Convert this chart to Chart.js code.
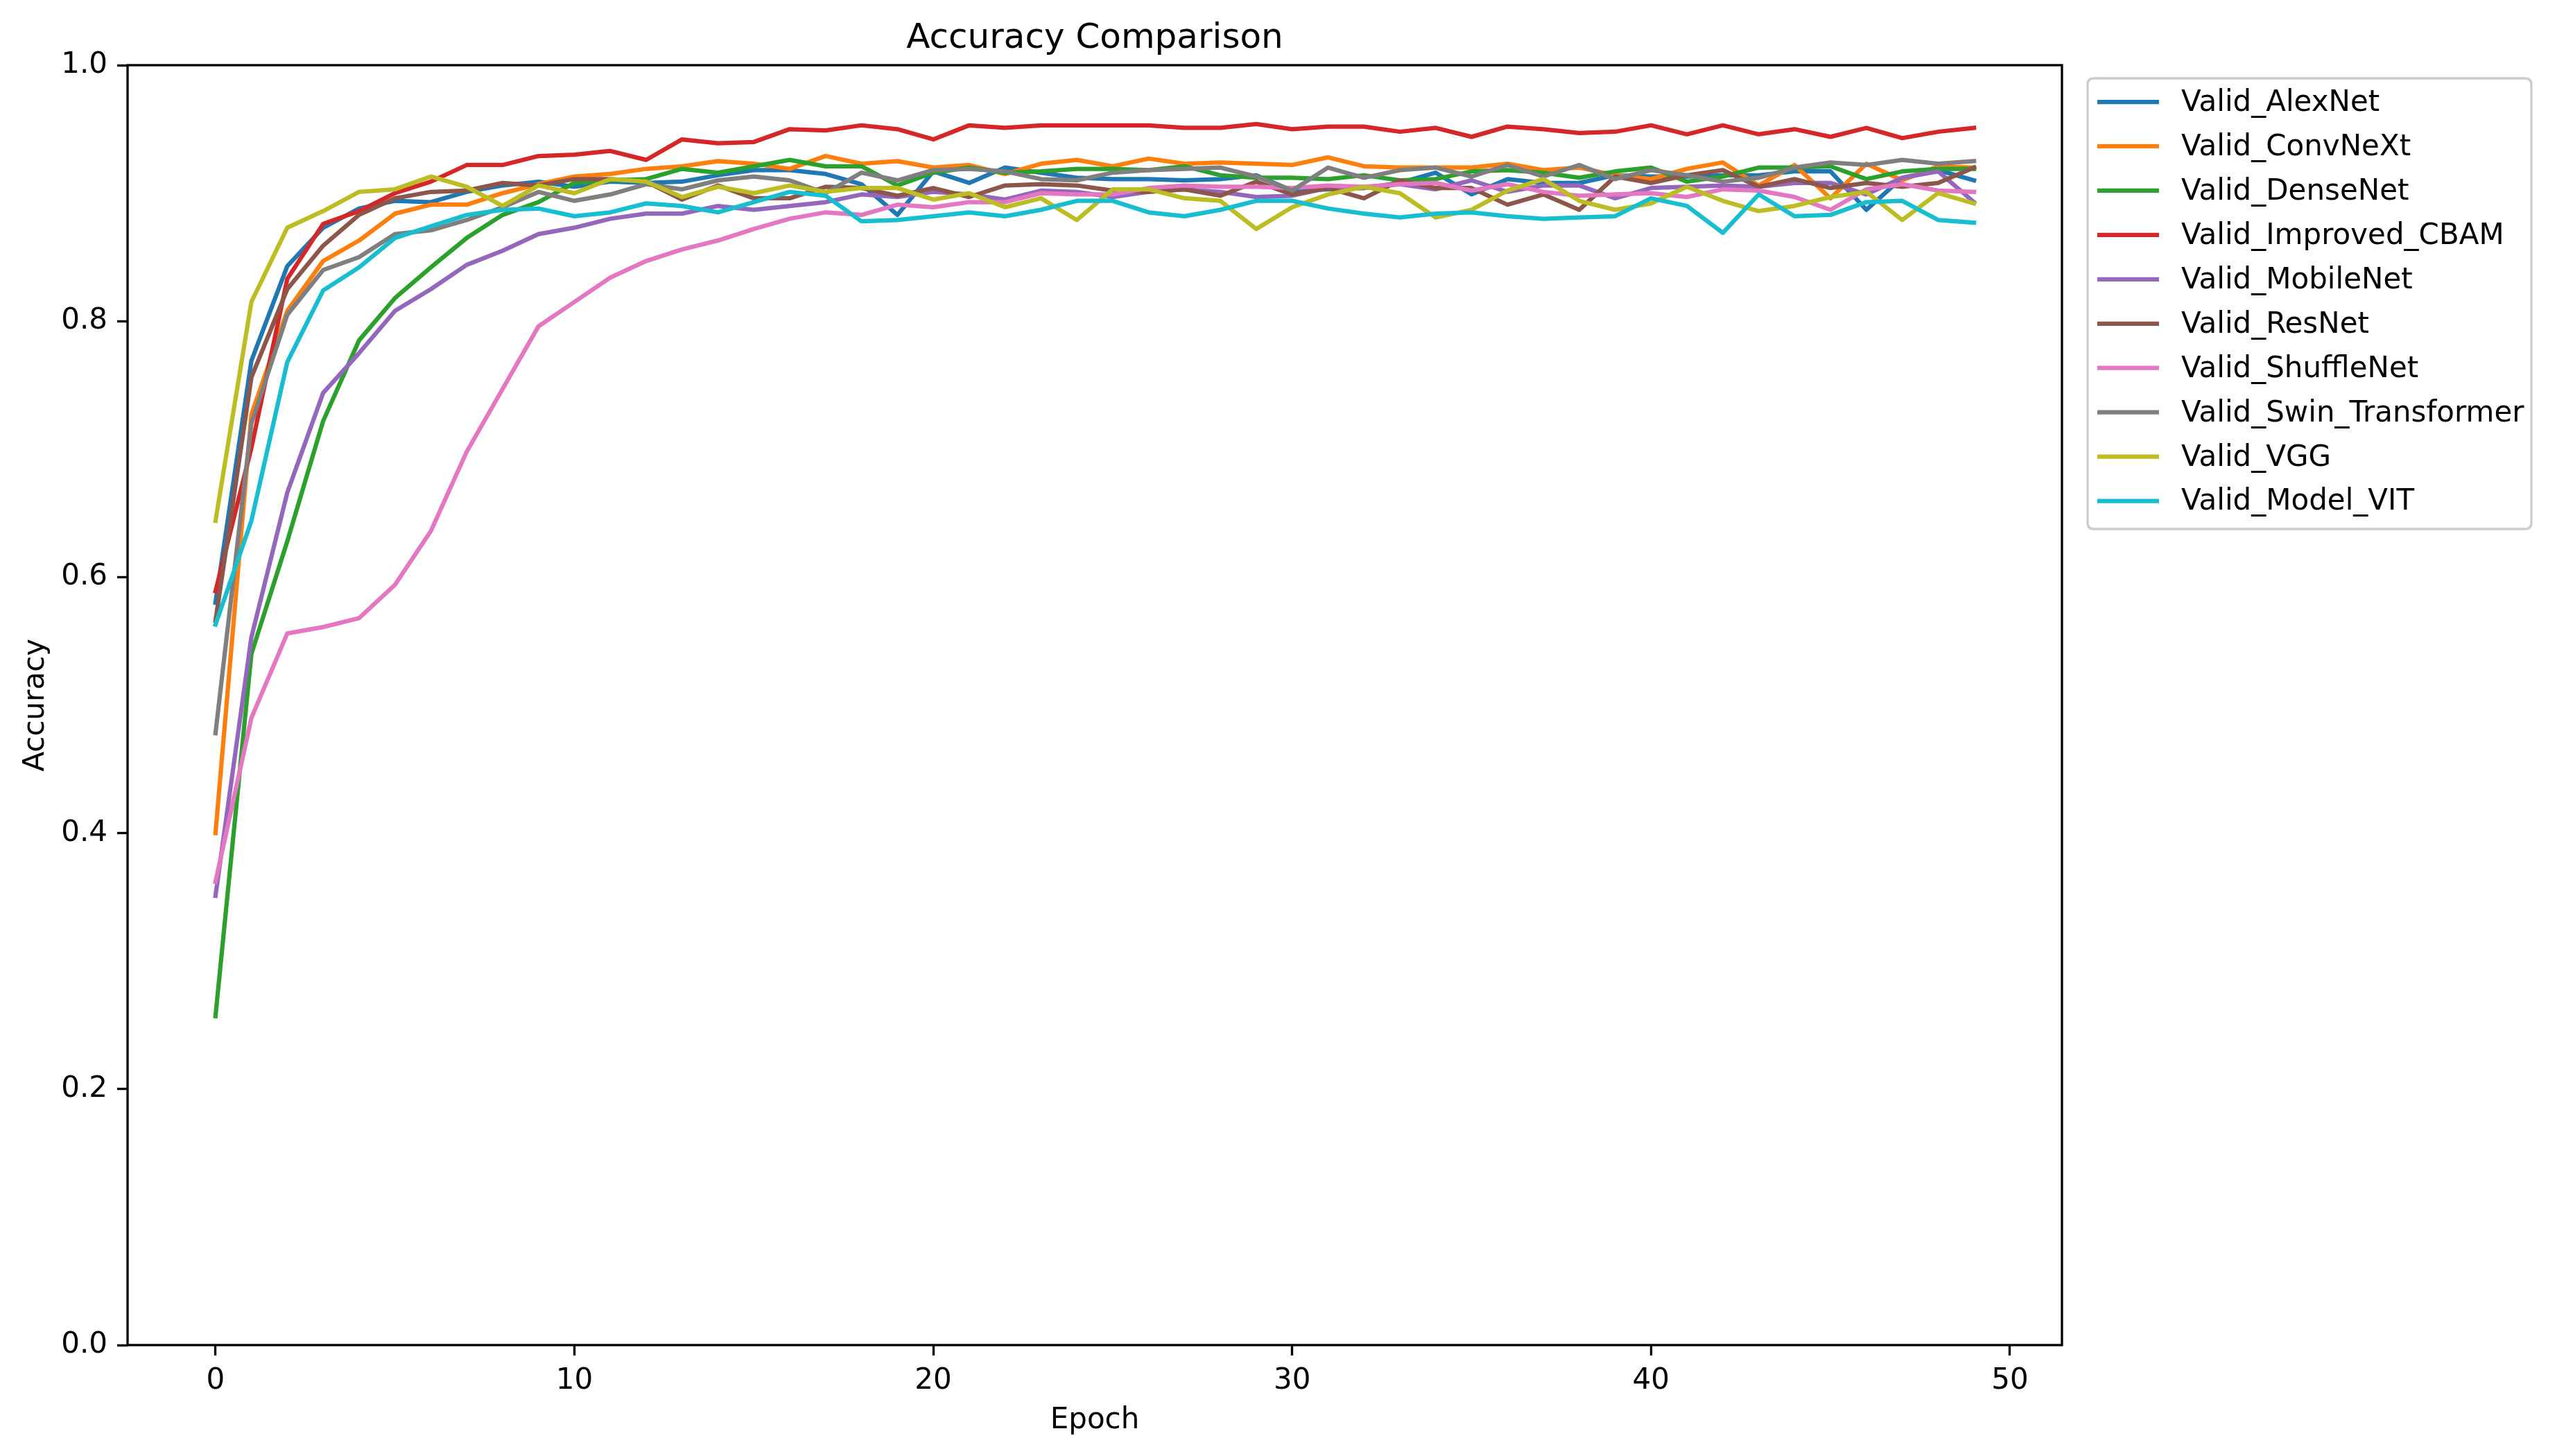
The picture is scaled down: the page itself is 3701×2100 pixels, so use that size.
<!DOCTYPE html>
<html><head><meta charset="utf-8">
<script src="https://cdn.jsdelivr.net/npm/chart.js@4.4.1/dist/chart.umd.min.js"></script>
<style>html,body{margin:0;padding:0;background:#fff;}canvas{display:block;}</style>
</head><body>
<canvas id="c" width="3701" height="2100" style="width:3701px;height:2100px"></canvas>
<script>
const epochs = [0,1,2,3,4,5,6,7,8,9,10,11,12,13,14,15,16,17,18,19,20,21,22,23,24,25,26,27,28,29,30,31,32,33,34,35,36,37,38,39,40,41,42,43,44,45,46,47,48,49];
const xTicks = [0,10,20,30,40,50];
const yTicks = [0.0,0.2,0.4,0.6,0.8,1.0];
const seriesNames = ['Valid_AlexNet','Valid_ConvNeXt','Valid_DenseNet','Valid_Improved_CBAM','Valid_MobileNet','Valid_ResNet','Valid_ShuffleNet','Valid_Swin_Transformer','Valid_VGG','Valid_Model_VIT'];
const seriesColors = ['#1f77b4','#ff7f0e','#2ca02c','#d62728','#9467bd','#8c564b','#e377c2','#7f7f7f','#bcbd22','#17becf'];

const validAlexNet = [0.580,0.769,0.843,0.873,0.888,0.894,0.893,0.901,0.906,0.909,0.905,0.909,0.908,0.909,0.914,0.918,0.918,0.915,0.907,0.883,0.917,0.908,0.920,0.916,0.912,0.911,0.911,0.910,0.911,0.914,0.902,0.903,0.904,0.908,0.916,0.899,0.911,0.908,0.908,0.914,0.913,0.913,0.914,0.914,0.917,0.917,0.887,0.912,0.918,0.910];
const validConvNeXt = [0.400,0.727,0.808,0.847,0.863,0.884,0.891,0.891,0.900,0.907,0.913,0.915,0.919,0.921,0.925,0.923,0.919,0.929,0.923,0.925,0.920,0.922,0.915,0.923,0.926,0.921,0.927,0.923,0.924,0.923,0.922,0.928,0.921,0.920,0.920,0.920,0.923,0.918,0.920,0.914,0.911,0.919,0.924,0.906,0.922,0.896,0.923,0.910,0.921,0.920];
const validDenseNet = [0.257,0.540,0.628,0.722,0.785,0.818,0.842,0.865,0.883,0.893,0.908,0.910,0.911,0.919,0.916,0.921,0.926,0.921,0.921,0.906,0.916,0.920,0.916,0.917,0.919,0.919,0.918,0.921,0.914,0.912,0.912,0.911,0.914,0.910,0.911,0.917,0.918,0.916,0.912,0.917,0.920,0.909,0.913,0.920,0.920,0.921,0.911,0.917,0.919,0.919];
const validImprovedCBAM = [0.589,0.701,0.833,0.876,0.886,0.900,0.909,0.922,0.922,0.929,0.930,0.933,0.926,0.942,0.939,0.940,0.950,0.949,0.953,0.950,0.942,0.953,0.951,0.953,0.953,0.953,0.953,0.951,0.951,0.954,0.950,0.952,0.952,0.948,0.951,0.944,0.952,0.950,0.947,0.948,0.953,0.946,0.953,0.946,0.950,0.944,0.951,0.943,0.948,0.951];
const validMobileNet = [0.351,0.553,0.666,0.744,0.775,0.808,0.825,0.844,0.855,0.868,0.873,0.880,0.884,0.884,0.890,0.887,0.890,0.893,0.899,0.897,0.901,0.899,0.895,0.902,0.901,0.897,0.901,0.903,0.901,0.897,0.898,0.904,0.904,0.907,0.903,0.910,0.901,0.906,0.906,0.896,0.904,0.905,0.906,0.905,0.908,0.908,0.899,0.912,0.917,0.893];
const validResNet = [0.566,0.756,0.825,0.859,0.883,0.896,0.901,0.902,0.908,0.906,0.911,0.911,0.909,0.895,0.906,0.896,0.896,0.905,0.904,0.898,0.904,0.897,0.906,0.907,0.906,0.902,0.901,0.903,0.898,0.909,0.899,0.904,0.896,0.910,0.904,0.904,0.891,0.899,0.887,0.913,0.908,0.914,0.918,0.905,0.911,0.904,0.908,0.905,0.908,0.920];
const validShuffleNet = [0.362,0.490,0.556,0.561,0.568,0.594,0.636,0.698,0.747,0.796,0.815,0.834,0.847,0.856,0.863,0.872,0.880,0.885,0.883,0.891,0.889,0.893,0.893,0.900,0.899,0.899,0.904,0.906,0.905,0.905,0.904,0.906,0.905,0.907,0.908,0.902,0.907,0.901,0.898,0.899,0.900,0.897,0.903,0.902,0.897,0.887,0.903,0.907,0.902,0.901];
const validSwinTransformer = [0.478,0.720,0.805,0.840,0.850,0.868,0.871,0.879,0.889,0.901,0.894,0.899,0.907,0.903,0.910,0.913,0.910,0.900,0.916,0.910,0.918,0.919,0.917,0.911,0.910,0.916,0.918,0.919,0.920,0.913,0.902,0.920,0.912,0.918,0.920,0.913,0.922,0.913,0.922,0.911,0.918,0.914,0.909,0.912,0.920,0.924,0.922,0.926,0.923,0.925];
const validVGG = [0.644,0.815,0.873,0.886,0.901,0.903,0.913,0.905,0.890,0.906,0.900,0.911,0.909,0.897,0.905,0.900,0.906,0.901,0.904,0.904,0.895,0.900,0.889,0.896,0.879,0.903,0.903,0.896,0.894,0.872,0.889,0.899,0.905,0.900,0.881,0.887,0.902,0.911,0.894,0.887,0.892,0.905,0.894,0.886,0.890,0.897,0.901,0.879,0.900,0.892];
const validModelVIT = [0.563,0.644,0.768,0.824,0.842,0.865,0.874,0.883,0.887,0.888,0.882,0.885,0.892,0.890,0.885,0.893,0.901,0.898,0.878,0.879,0.882,0.885,0.882,0.887,0.894,0.894,0.885,0.882,0.887,0.894,0.894,0.888,0.884,0.881,0.884,0.885,0.882,0.880,0.881,0.882,0.896,0.890,0.869,0.899,0.882,0.883,0.893,0.894,0.879,0.877];

const seriesValues = [validAlexNet, validConvNeXt, validDenseNet, validImprovedCBAM, validMobileNet, validResNet, validShuffleNet, validSwinTransformer, validVGG, validModelVIT];

const FONT = "'DejaVu Sans', sans-serif";
const LW = 6.25;      // 1.5pt @300dpi
const AXW = 3.33;     // 0.8pt @300dpi

const datasets = seriesValues.map((vals, i) => ({
  label: seriesNames[i],
  data: epochs.map((e, k) => ({x: e, y: vals[k]})),
  borderColor: seriesColors[i],
  backgroundColor: seriesColors[i],
  borderWidth: LW,
  pointRadius: 0,
  pointHoverRadius: 0,
  tension: 0,
  fill: false,
  borderJoinStyle: 'round',
  borderCapStyle: 'square',
  order: seriesNames.length - 1 - i
}));

const decor = {
  id: 'decor',
  afterDatasetsDraw(chart) {
    const {ctx, chartArea: a} = chart;
    ctx.save();
    ctx.strokeStyle = '#000';
    ctx.lineWidth = AXW;
    ctx.strokeRect(a.left, a.top, a.right - a.left, a.bottom - a.top);
    ctx.restore();
  },
  afterDraw(chart) {
    const {ctx, chartArea: a} = chart;
    ctx.save();
    // title
    ctx.fillStyle = '#000';
    ctx.font = "50px " + FONT;
    ctx.textAlign = 'center';
    ctx.textBaseline = 'alphabetic';
    ctx.fillText('Accuracy Comparison', (a.left + a.right) / 2, a.top - 25);
    // legend
    const bx = a.right + 37, by = a.top + 19, bw = 640, bh = 650, r = 9;
    ctx.beginPath();
    ctx.moveTo(bx + r, by);
    ctx.lineTo(bx + bw - r, by);
    ctx.quadraticCurveTo(bx + bw, by, bx + bw, by + r);
    ctx.lineTo(bx + bw, by + bh - r);
    ctx.quadraticCurveTo(bx + bw, by + bh, bx + bw - r, by + bh);
    ctx.lineTo(bx + r, by + bh);
    ctx.quadraticCurveTo(bx, by + bh, bx, by + bh - r);
    ctx.lineTo(bx, by + r);
    ctx.quadraticCurveTo(bx, by, bx + r, by);
    ctx.closePath();
    ctx.fillStyle = 'rgba(255,255,255,0.8)';
    ctx.fill();
    ctx.strokeStyle = '#cccccc';
    ctx.lineWidth = AXW;
    ctx.stroke();
    ctx.font = "42px " + FONT;
    ctx.textAlign = 'left';
    ctx.textBaseline = 'middle';
    chart.data.datasets.forEach((ds, i) => {
      const y = a.top + 53 + i * 63.95;
      ctx.strokeStyle = ds.borderColor;
      ctx.lineWidth = LW;
      ctx.lineCap = 'butt';
      ctx.beginPath();
      ctx.moveTo(a.right + 51, y);
      ctx.lineTo(a.right + 140, y);
      ctx.stroke();
      ctx.fillStyle = '#000';
      ctx.fillText(ds.label, a.right + 172, y + 2);
    });
    ctx.restore();
  }
};

Chart.defaults.font.family = FONT;
Chart.defaults.color = '#000';

new Chart(document.getElementById('c'), {
  type: 'line',
  data: {datasets},
  plugins: [decor],
  options: {
    responsive: false,
    devicePixelRatio: 1,
    animation: false,
    events: [],
    layout: {padding: {top: 94, right: 727, left: 0, bottom: 0}},
    plugins: {legend: {display: false}, title: {display: false}, tooltip: {enabled: false}},
    scales: {
      x: {
        type: 'linear',
        min: -2.45,
        max: 51.45,
        afterBuildTicks: s => { s.ticks = xTicks.map(v => ({value: v})); },
        afterFit: s => { s.height = 160; },
        ticks: {font: {size: 42}, color: '#000', padding: 12, maxRotation: 0, callback: v => String(v)},
        grid: {display: true, drawOnChartArea: false, drawTicks: true, tickLength: 15, tickWidth: AXW, tickColor: '#000'},
        border: {display: false},
        title: {display: true, text: 'Epoch', font: {size: 42}, color: '#000', padding: {top: 0, bottom: 26}}
      },
      y: {
        min: 0,
        max: 1,
        afterBuildTicks: s => { s.ticks = yTicks.map(v => ({value: v})); },
        afterFit: s => { s.width = 184; },
        ticks: {font: {size: 42}, color: '#000', padding: 14, callback: v => v.toFixed(1)},
        grid: {display: true, drawOnChartArea: false, drawTicks: true, tickLength: 15, tickWidth: AXW, tickColor: '#000'},
        border: {display: false},
        title: {display: true, text: 'Accuracy', font: {size: 42}, color: '#000', padding: {top: 27, bottom: 0}}
      }
    }
  }
});
</script>
</body></html>
